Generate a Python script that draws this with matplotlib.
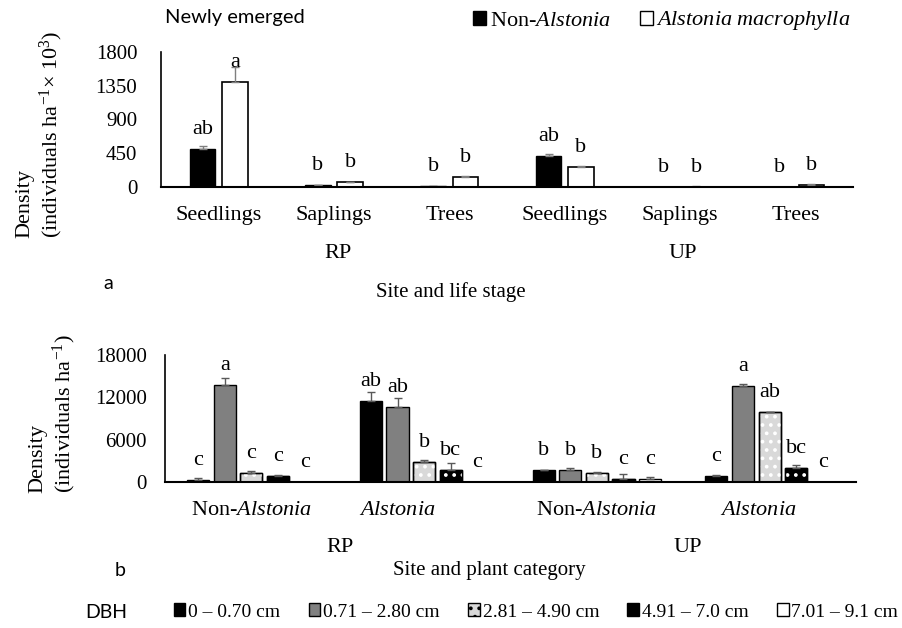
"""
Density of newly emerged plants by life stage (a) and of
plants by DBH class (b) in RP and UP sites
"""

import numpy as np
import matplotlib.pyplot as plt
import matplotlib.transforms as mtransforms
from matplotlib.patches import Patch

plt.rcParams["font.family"] = "Liberation Serif"
plt.rcParams["mathtext.fontset"] = "custom"
plt.rcParams["mathtext.rm"] = "Liberation Serif"
plt.rcParams["mathtext.it"] = "Liberation Serif:italic"
plt.rcParams["hatch.linewidth"] = 1.5

# Panel a: newly emerged, x 10^3 individuals per ha
STAGES = ["Seedlings", "Saplings", "Trees", "Seedlings", "Saplings", "Trees"]
SITES = ["RP", "UP"]
NON_ALSTONIA = [505, 27, 8, 420, 0, 0]
NON_ALSTONIA_ERR = [40, 5, 2, 22, 0, 0]
ALSTONIA = [1400, 62, 137, 262, 6, 31]
ALSTONIA_ERR = [200, 5, 6, 22, 3, 4]
LETTERS_NON = ["ab", "b", "b", "ab", "b", "b"]
LETTERS_ALS = ["a", "b", "b", "b", "b", "b"]

# Panel b: individuals per ha in each DBH class
CATEGORIES = [r"Non-$\mathit{Alstonia}$", r"$\mathit{Alstonia}$",
              r"Non-$\mathit{Alstonia}$", r"$\mathit{Alstonia}$"]
DBH_CLASSES = ["0 – 0.70 cm", "0.71 – 2.80 cm", "2.81 – 4.90 cm",
               "4.91 – 7.0 cm", "7.01 – 9.1 cm"]
# rows = DBH class, columns = RP non-Alstonia, RP Alstonia, UP non-Alstonia, UP Alstonia
DBH_DENSITY = [
    [350, 11500, 1650, 900],
    [13750, 10700, 1650, 13600],
    [1300, 2900, 1300, 9900],
    [900, 1700, 450, 2050],
    [0, 0, 400, 0],
]
DBH_ERR = [
    [150, 1200, 100, 150],
    [1000, 1200, 400, 250],
    [200, 250, 100, 80],
    [150, 1000, 700, 350],
    [0, 0, 250, 0],
]
DBH_LETTERS = [
    ["c", "ab", "b", "c"],
    ["a", "ab", "b", "a"],
    ["c", "b", "b", "ab"],
    ["c", "bc", "c", "bc"],
    ["c", "c", "c", "c"],
]

# face colour, hatch, hatch colour for each DBH class
DBH_STYLE = [
    ("black", None, None),
    ("#808080", None, None),
    ("#d9d9d9", "..", "white"),
    ("black", "..", "white"),
    ("white", None, None),
]

SERIF = 15
LABEL = 16
ERR_COLOR = "#7f7f7f"

fig = plt.figure(figsize=(9.02, 6.28), dpi=100)


def px_axes(left, top, right, bottom):
    W, H = 902, 628
    return fig.add_axes([left / W, 1 - bottom / H, (right - left) / W, (bottom - top) / H])


def style_axes(ax, ypad):
    for s in ["top", "right"]:
        ax.spines[s].set_visible(False)
    ax.spines["left"].set_linewidth(1.2)
    ax.spines["bottom"].set_linewidth(1.5)
    ax.tick_params(axis="both", length=0)
    ax.tick_params(axis="y", pad=ypad, labelsize=SERIF)
    ax.tick_params(axis="x", pad=14, labelsize=LABEL)


def letter(ax, x, y, s):
    ax.annotate(s, (x, y), xytext=(0, 14), textcoords="offset points",
                ha="center", va="center", fontsize=LABEL)


# ---- panel a ----
ax1 = px_axes(161, 52, 853, 187)
x1 = np.arange(len(STAGES))
off, w = 0.14, 0.22
ax1.bar(x1 - off, NON_ALSTONIA, w, color="black", edgecolor="black", lw=1)
ax1.bar(x1 + off, ALSTONIA, w, color="white", edgecolor="black", lw=1.2)
ax1.errorbar(x1 - off, NON_ALSTONIA, yerr=[np.zeros(6), NON_ALSTONIA_ERR],
             fmt="none", ecolor=ERR_COLOR, capsize=3, elinewidth=1)
ax1.errorbar(x1 + off, ALSTONIA, yerr=[np.zeros(6), ALSTONIA_ERR],
             fmt="none", ecolor=ERR_COLOR, capsize=3, elinewidth=1)
for i in range(len(STAGES)):
    letter(ax1, x1[i] - off, NON_ALSTONIA[i], LETTERS_NON[i])
    letter(ax1, x1[i] + off, ALSTONIA[i], LETTERS_ALS[i])
ax1.set_xlim(-0.5, 5.5)
ax1.set_ylim(0, 1800)
ax1.set_yticks([0, 450, 900, 1350, 1800])
ax1.set_xticks(x1)
ax1.set_xticklabels(STAGES)
style_axes(ax1, 17)

# ---- panel b ----
ax2 = px_axes(165, 355, 856, 482)
x2 = np.arange(len(CATEGORIES))
step, wb = 0.154, 0.128
for j, (fc, hatch, hc) in enumerate(DBH_STYLE):
    xs = x2 + (j - 2) * step
    ax2.bar(xs, DBH_DENSITY[j], wb, color=fc, edgecolor="black", lw=1)
    if hatch:
        ax2.bar(xs, DBH_DENSITY[j], wb, facecolor="none", edgecolor=hc, hatch=hatch, lw=0)
        ax2.bar(xs, DBH_DENSITY[j], wb, facecolor="none", edgecolor="black", lw=1)
    ax2.errorbar(xs, DBH_DENSITY[j], yerr=[np.zeros(4), DBH_ERR[j]], fmt="none",
                 ecolor="#595959", capsize=3, elinewidth=1)
    for i in range(len(CATEGORIES)):
        letter(ax2, xs[i], DBH_DENSITY[j][i], DBH_LETTERS[j][i])
ax2.set_xlim(-0.5, 3.5)
ax2.set_ylim(0, 18000)
ax2.set_yticks([0, 6000, 12000, 18000])
ax2.set_xticks(x2)
ax2.set_xticklabels(CATEGORIES)
style_axes(ax2, 13)
# the Alstonia labels sit a little left of their bar groups
for lab, dx in zip(ax2.get_xticklabels(), [0, -19, 0, -8]):
    lab.set_transform(lab.get_transform() +
                      mtransforms.ScaledTranslation(dx / 72, 0, fig.dpi_scale_trans))


# ---- figure-level text (pixel positions) ----
def ftext(x, y, s, **kw):
    fig.text(x / 902, 1 - y / 628, s, **kw)


ftext(338, 253, "RP", fontsize=LABEL, ha="center", va="center")
ftext(683, 253, "UP", fontsize=LABEL, ha="center", va="center")
ftext(451, 292, "Site and life stage", fontsize=SERIF, ha="center", va="center")
ftext(108, 283, "a", fontsize=14, family="Lato", ha="center", va="center")
ftext(165, 17, "Newly emerged", fontsize=14.5, family="Lato", ha="left", va="center")

ftext(340, 548, "RP", fontsize=LABEL, ha="center", va="center")
ftext(688, 548, "UP", fontsize=LABEL, ha="center", va="center")
ftext(489, 570, "Site and plant category", fontsize=SERIF, ha="center", va="center")
ftext(120, 570, "b", fontsize=14, family="Lato", ha="center", va="center")
ftext(106, 612, "DBH", fontsize=14, family="Lato", ha="center", va="center")

ftext(40, 238, "Density\n(individuals ha$^{-1}$× 10$^{3}$)", fontsize=SERIF + 1,
      rotation=90, ha="center", va="bottom", multialignment="left", linespacing=1.15)
ftext(53, 493, "Density\n(individuals ha$^{-1}$)", fontsize=SERIF + 1,
      rotation=90, ha="center", va="bottom", multialignment="left", linespacing=1.15)

# legend for panel a
leg_a = [Patch(facecolor="black", edgecolor="black"),
         Patch(facecolor="white", edgecolor="black")]
fig.legend(leg_a, [r"Non-$\mathit{Alstonia}$", r"$\mathit{Alstonia\ macrophylla}$"],
           loc="center", bbox_to_anchor=(662 / 902, 1 - 21 / 628), ncol=2,
           frameon=False, fontsize=LABEL, handlelength=0.6, handleheight=0.6,
           handletextpad=0.15, columnspacing=1.3)

# legend for panel b
leg_b = []
for fc, hatch, hc in DBH_STYLE:
    leg_b.append(Patch(facecolor=fc, edgecolor="black", hatch=hatch))
fig.legend(leg_b, DBH_CLASSES, loc="center", bbox_to_anchor=(536 / 902, 1 - 612 / 628),
           ncol=5, frameon=False, fontsize=14, handlelength=0.6, handleheight=0.6,
           handletextpad=0.15, columnspacing=1.45)

fig.savefig("out.png", dpi=100)
